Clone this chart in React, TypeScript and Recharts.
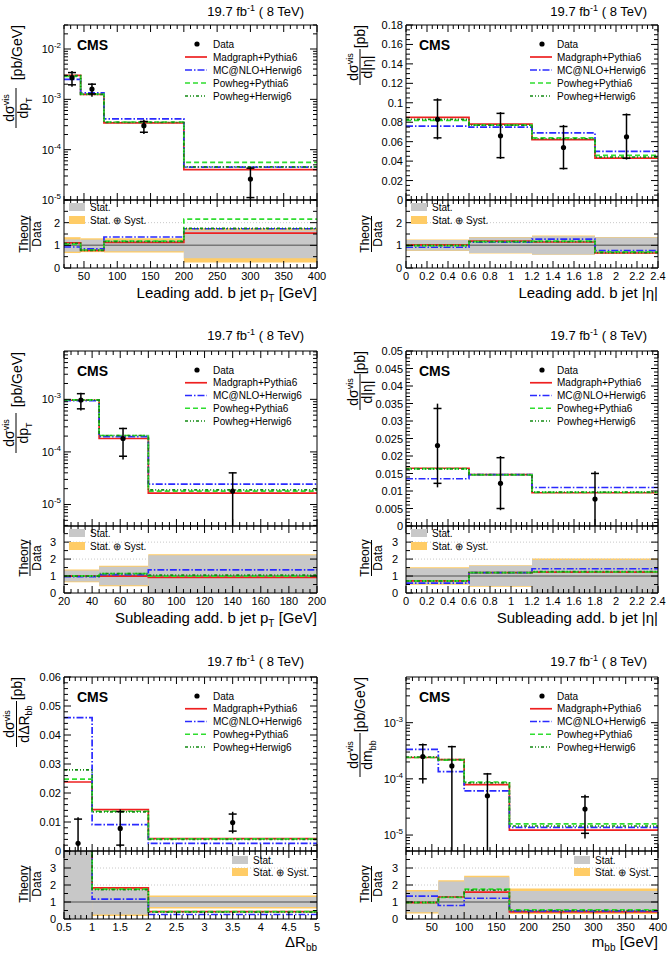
import React from 'react';
import { ComposedChart, Line, Scatter, XAxis, YAxis, ReferenceArea, ReferenceLine, ErrorBar } from 'recharts';

const FONT = '"Liberation Sans", Arial, Helvetica, sans-serif';

const modelNames = ['Madgraph+Pythia6', 'MC@NLO+Herwig6', 'Powheg+Pythia6', 'Powheg+Herwig6'];
const modelColors = ['#ee2020', '#2a2aff', '#2fdd2f', '#138a13'];
const modelDashes = ['', '7 2 1.5 2', '5 3', '3 2 1 2 1 2'];
const statColor = '#c8c8c8';
const systColor = '#ffcc66';
const lumiText = '19.7';

// ===== Leading add. b jet pT =====
const ptLeadEdges = [20, 45, 80, 200, 400];
const ptLeadDataX = [32, 62, 140, 300];
const ptLeadData = [2.7e-3, 1.6e-3, 3.0e-4, 2.6e-5];
const ptLeadStatLo = [0.72, 0.8, 0.74, 0.43];
const ptLeadStatHi = [1.26, 1.25, 1.21, 1.65];
const ptLeadTotLo = [0.66, 0.7, 0.68, 0.24];
const ptLeadTotHi = [1.36, 1.31, 1.31, 1.75];
const ptLeadMadgraph = [3.0e-3, 1.25e-3, 3.4e-4, 4.0e-5];
const ptLeadMcatnlo = [2.5e-3, 1.35e-3, 4.1e-4, 4.5e-5];
const ptLeadPowhegPy = [2.85e-3, 1.27e-3, 3.55e-4, 5.6e-5];
const ptLeadPowhegHw = [2.95e-3, 1.25e-3, 3.5e-4, 4.55e-5];
const ptLeadXMajors = [50, 100, 150, 200, 250, 300, 350, 400];
const ptLeadYMajors = [1e-5, 1e-4, 1e-3, 1e-2];

// ===== Leading add. b jet |eta| =====
const etaLeadEdges = [0, 0.6, 1.2, 1.8, 2.4];
const etaLeadDataX = [0.3, 0.9, 1.5, 2.1];
const etaLeadData = [0.083, 0.066, 0.054, 0.065];
const etaLeadStatLo = [0.77, 0.66, 0.6, 0.66];
const etaLeadStatHi = [1.24, 1.35, 1.4, 1.35];
const etaLeadTotLo = [0.75, 0.64, 0.58, 0.64];
const etaLeadTotHi = [1.26, 1.37, 1.43, 1.37];
const etaLeadMadgraph = [0.085, 0.078, 0.062, 0.043];
const etaLeadMcatnlo = [0.076, 0.075, 0.069, 0.05];
const etaLeadPowhegPy = [0.082, 0.077, 0.064, 0.046];
const etaLeadPowhegHw = [0.083, 0.077, 0.063, 0.044];
const etaXMajors = [0, 0.2, 0.4, 0.6, 0.8, 1, 1.2, 1.4, 1.6, 1.8, 2, 2.2, 2.4];
const etaLeadYMajors = [0, 0.02, 0.04, 0.06, 0.08, 0.1, 0.12, 0.14, 0.16, 0.18];

// ===== Subleading add. b jet pT =====
const ptSubEdges = [20, 45, 80, 200];
const ptSubDataX = [32, 62, 140];
const ptSubData = [9.7e-4, 1.8e-4, 1.8e-5];
const ptSubStatLo = [0.68, 0.46, 0];
const ptSubStatHi = [1.32, 1.55, 2.22];
const ptSubTotLo = [0.63, 0.4, 0];
const ptSubTotHi = [1.38, 1.6, 2.28];
const ptSubMadgraph = [9.6e-4, 1.8e-4, 1.65e-5];
const ptSubMcatnlo = [9.4e-4, 1.95e-4, 2.45e-5];
const ptSubPowhegPy = [9.8e-4, 2.05e-4, 1.8e-5];
const ptSubPowhegHw = [9.7e-4, 2.05e-4, 1.9e-5];
const ptSubXMajors = [20, 40, 60, 80, 100, 120, 140, 160, 180, 200];
const ptSubYMajors = [1e-5, 1e-4, 1e-3];

// ===== Subleading add. b jet |eta| =====
const etaSubEdges = [0, 0.6, 1.2, 2.4];
const etaSubDataX = [0.3, 0.9, 1.8];
const etaSubData = [0.023, 0.0122, 0.0077];
const etaSubStatLo = [0.53, 0.41, 0];
const etaSubStatHi = [1.46, 1.6, 1.95];
const etaSubTotLo = [0.48, 0.37, 0];
const etaSubTotHi = [1.52, 1.64, 2.03];
const etaSubMadgraph = [0.0165, 0.0147, 0.0095];
const etaSubMcatnlo = [0.0135, 0.0147, 0.011];
const etaSubPowhegPy = [0.0164, 0.0146, 0.0096];
const etaSubPowhegHw = [0.0163, 0.0147, 0.0097];
const etaSubYMajors = [0, 0.005, 0.01, 0.015, 0.02, 0.025, 0.03, 0.035, 0.04, 0.045, 0.05];

// ===== Delta R bb =====
const drEdges = [0.5, 1, 2, 5];
const drDataX = [0.75, 1.5, 3.5];
const drData = [0.00265, 0.0078, 0.0098];
const drStatLo = [0, 0.26, 0.7];
const drStatHi = [4.15, 1.74, 1.3];
const drTotLo = [0, 0.17, 0.62];
const drTotHi = [4.4, 1.83, 1.38];
const drMadgraph = [0.0238, 0.0143, 0.0043];
const drMcatnlo = [0.046, 0.0091, 0.0026];
const drPowhegPy = [0.0248, 0.0137, 0.0042];
const drPowhegHw = [0.028, 0.0135, 0.004];
const drXMajors = [0.5, 1, 1.5, 2, 2.5, 3, 3.5, 4, 4.5, 5];
const drYMajors = [0, 0.01, 0.02, 0.03, 0.04, 0.05, 0.06];

// ===== m bb =====
const mbbEdges = [10, 60, 100, 170, 400];
const mbbDataX = [36, 81, 136, 287];
const mbbData = [2.5e-4, 1.7e-4, 5.0e-5, 2.9e-5];
const mbbStatLo = [0.4, 0, 0, 0.37];
const mbbStatHi = [1.62, 2.2, 2.45, 1.65];
const mbbTotLo = [0.33, 0, 0, 0.3];
const mbbTotHi = [1.7, 2.28, 2.55, 1.8];
const mbbMadgraph = [2.4e-4, 2.2e-4, 7.9e-5, 1.22e-5];
const mbbMcatnlo = [3.35e-4, 1.35e-4, 6.1e-5, 1.37e-5];
const mbbPowhegPy = [2.4e-4, 2.15e-4, 8.8e-5, 1.58e-5];
const mbbPowhegHw = [2.45e-4, 2.2e-4, 8.5e-5, 1.45e-5];
const mbbXMajors = [50, 100, 150, 200, 250, 300, 350, 400];
const mbbYMajors = [1e-5, 1e-4, 1e-3];

const ratioMajorsTop = [0, 1, 2];
const ratioMajors = [0, 1, 2, 3];

// ---------- helpers ----------
const stepTicks = (lo: number, hi: number, step: number) => {
  const out: number[] = [];
  const n = Math.round((hi - lo) / step);
  for (let i = 0; i <= n; i++) out.push(+(lo + i * step).toFixed(8));
  return out;
};
const logTicks = (lo: number, hi: number) => {
  const out: number[] = [];
  for (let d = Math.floor(Math.log10(lo)); d <= Math.ceil(Math.log10(hi)); d++) {
    for (let k = 1; k <= 9; k++) {
      const v = +(k * Math.pow(10, d)).toPrecision(6);
      if (v >= lo && v <= hi) out.push(v);
    }
  }
  return out;
};
const isIn = (v: number, arr: number[]) => arr.some((m) => Math.abs(m - v) <= 1e-12 + 1e-6 * Math.abs(m));
const fmtNum = (v: number) => String(+v.toFixed(5));
const fmtLog = (v: number) => {
  const e = Math.round(Math.log10(v));
  return (
    <>
      <tspan>10</tspan>
      <tspan dy={-5} fontSize={8}>{String(e)}</tspan>
    </>
  );
};

function makeTick(side: string, majors: number[], fmt: ((v: number) => React.ReactNode) | null, labelGap = 3) {
  return (props: any) => {
    const { x, y, payload } = props;
    const v = payload.value;
    const major = isIn(v, majors);
    const len = major ? 7 : 4;
    let line: React.ReactNode = null;
    let label: React.ReactNode = null;
    if (side === 'bottom') {
      line = <line x1={x} y1={y} x2={x} y2={y - len} stroke="#000" strokeWidth={1} />;
      if (fmt && major)
        label = (
          <text x={x} y={y + 12} textAnchor="middle" fontSize={11} fontFamily={FONT} fill="#000">
            {fmt(v)}
          </text>
        );
    } else if (side === 'top') {
      line = <line x1={x} y1={y} x2={x} y2={y + len} stroke="#000" strokeWidth={1} />;
    } else if (side === 'left') {
      line = <line x1={x} y1={y} x2={x + len} y2={y} stroke="#000" strokeWidth={1} />;
      if (fmt && major)
        label = (
          <text x={x - labelGap} y={y + 4} textAnchor="end" fontSize={11} fontFamily={FONT} fill="#000">
            {fmt(v)}
          </text>
        );
    } else {
      line = <line x1={x} y1={y} x2={x - len} y2={y} stroke="#000" strokeWidth={1} />;
    }
    return (
      <g>
        {line}
        {label}
      </g>
    );
  };
}

type Lay = { left: number; right: number; top: number; mid: number; bottom: number };
type PanelCfg = {
  edges: number[];
  dataX: number[];
  data: number[];
  statLo: number[];
  statHi: number[];
  totLo: number[];
  totHi: number[];
  models: number[][];
  log: boolean;
  yDomain: [number, number];
  yMajors: number[];
  yTicks: number[];
  xDomain: [number, number];
  xMajors: number[];
  xTicks: number[];
  rDomain: [number, number];
  rMajors: number[];
  rTicks: number[];
  lay: Lay;
  col: number;
  row: number;
};

const col0 = { left: 64, right: 317 };
const col1 = { left: 406, right: 658 };
const row0 = { top: 25, mid: 200, bottom: 268 };
const row1 = { top: 351, mid: 526, bottom: 593 };
const row2 = { top: 677, mid: 851, bottom: 919 };

const panels: PanelCfg[] = [
  {
    edges: ptLeadEdges, dataX: ptLeadDataX, data: ptLeadData,
    statLo: ptLeadStatLo, statHi: ptLeadStatHi, totLo: ptLeadTotLo, totHi: ptLeadTotHi,
    models: [ptLeadMadgraph, ptLeadMcatnlo, ptLeadPowhegPy, ptLeadPowhegHw],
    log: true, yDomain: [1e-5, 3e-2], yMajors: ptLeadYMajors, yTicks: logTicks(1e-5, 3e-2),
    xDomain: [20, 400], xMajors: ptLeadXMajors, xTicks: stepTicks(20, 400, 10),
    rDomain: [0, 3], rMajors: ratioMajorsTop, rTicks: stepTicks(0, 3, 0.5),
    lay: { ...col0, ...row0 }, col: 0, row: 0,
  },
  {
    edges: etaLeadEdges, dataX: etaLeadDataX, data: etaLeadData,
    statLo: etaLeadStatLo, statHi: etaLeadStatHi, totLo: etaLeadTotLo, totHi: etaLeadTotHi,
    models: [etaLeadMadgraph, etaLeadMcatnlo, etaLeadPowhegPy, etaLeadPowhegHw],
    log: false, yDomain: [0, 0.18], yMajors: etaLeadYMajors, yTicks: stepTicks(0, 0.18, 0.005),
    xDomain: [0, 2.4], xMajors: etaXMajors, xTicks: stepTicks(0, 2.4, 0.05),
    rDomain: [0, 3], rMajors: ratioMajorsTop, rTicks: stepTicks(0, 3, 0.5),
    lay: { ...col1, ...row0 }, col: 1, row: 0,
  },
  {
    edges: ptSubEdges, dataX: ptSubDataX, data: ptSubData,
    statLo: ptSubStatLo, statHi: ptSubStatHi, totLo: ptSubTotLo, totHi: ptSubTotHi,
    models: [ptSubMadgraph, ptSubMcatnlo, ptSubPowhegPy, ptSubPowhegHw],
    log: true, yDomain: [3.9e-6, 8.3e-3], yMajors: ptSubYMajors, yTicks: logTicks(3.9e-6, 8.3e-3),
    xDomain: [20, 200], xMajors: ptSubXMajors, xTicks: stepTicks(20, 200, 5),
    rDomain: [0, 3.95], rMajors: ratioMajors, rTicks: stepTicks(0, 3.5, 0.5),
    lay: { ...col0, ...row1 }, col: 0, row: 1,
  },
  {
    edges: etaSubEdges, dataX: etaSubDataX, data: etaSubData,
    statLo: etaSubStatLo, statHi: etaSubStatHi, totLo: etaSubTotLo, totHi: etaSubTotHi,
    models: [etaSubMadgraph, etaSubMcatnlo, etaSubPowhegPy, etaSubPowhegHw],
    log: false, yDomain: [0, 0.05], yMajors: etaSubYMajors, yTicks: stepTicks(0, 0.05, 0.001),
    xDomain: [0, 2.4], xMajors: etaXMajors, xTicks: stepTicks(0, 2.4, 0.05),
    rDomain: [0, 3.95], rMajors: ratioMajors, rTicks: stepTicks(0, 3.5, 0.5),
    lay: { ...col1, ...row1 }, col: 1, row: 1,
  },
  {
    edges: drEdges, dataX: drDataX, data: drData,
    statLo: drStatLo, statHi: drStatHi, totLo: drTotLo, totHi: drTotHi,
    models: [drMadgraph, drMcatnlo, drPowhegPy, drPowhegHw],
    log: false, yDomain: [0, 0.06], yMajors: drYMajors, yTicks: stepTicks(0, 0.06, 0.002),
    xDomain: [0.5, 5], xMajors: drXMajors, xTicks: stepTicks(0.5, 5, 0.1),
    rDomain: [0, 4], rMajors: ratioMajors, rTicks: stepTicks(0, 4, 0.5),
    lay: { ...col0, ...row2 }, col: 0, row: 2,
  },
  {
    edges: mbbEdges, dataX: mbbDataX, data: mbbData,
    statLo: mbbStatLo, statHi: mbbStatHi, totLo: mbbTotLo, totHi: mbbTotHi,
    models: [mbbMadgraph, mbbMcatnlo, mbbPowhegPy, mbbPowhegHw],
    log: true, yDomain: [5.2e-6, 6.5e-3], yMajors: mbbYMajors, yTicks: logTicks(5.2e-6, 6.5e-3),
    xDomain: [10, 400], xMajors: mbbXMajors, xTicks: stepTicks(10, 400, 10),
    rDomain: [0, 4], rMajors: ratioMajors, rTicks: stepTicks(0, 4, 0.5),
    lay: { ...col1, ...row2 }, col: 1, row: 2,
  },
];

// chart margins around the plot frame (axes take 1px each)
const ML = 60, MR = 14, MT = 14, MB = 20;

const DataDot = (props: any) => <circle cx={props.cx} cy={props.cy} r={2.6} fill="#000" />;
const CapMark = (props: any) => (
  <line x1={props.cx - 4} y1={props.cy} x2={props.cx + 4} y2={props.cy} stroke="#000" strokeWidth={1.5} />
);

function axisSet(p: PanelCfg, ratio: boolean) {
  const scale = !ratio && p.log ? 'log' : 'linear';
  const yDomain = ratio ? p.rDomain : p.yDomain;
  const yTicks = ratio ? p.rTicks : p.yTicks;
  const yMajors = ratio ? p.rMajors : p.yMajors;
  const yFmt = ratio ? fmtNum : p.log ? fmtLog : fmtNum;
  const gap = ratio ? (p.row === 0 ? 4 : 8) : 3;
  return [
    <XAxis key="xb" xAxisId={0} dataKey="x" type="number" domain={p.xDomain} ticks={p.xTicks} interval={0}
      allowDataOverflow height={1} tickSize={0} tickMargin={0} tickLine={false}
      axisLine={{ stroke: '#000' }} tick={makeTick('bottom', p.xMajors, ratio ? fmtNum : null)} />,
    <XAxis key="xt" xAxisId="top" orientation="top" dataKey="x" type="number" domain={p.xDomain} ticks={p.xTicks}
      interval={0} allowDataOverflow height={1} tickSize={0} tickMargin={0} tickLine={false}
      axisLine={{ stroke: '#000' }} tick={makeTick('top', p.xMajors, null)} />,
    <YAxis key="yl" yAxisId={0} type="number" scale={scale} domain={yDomain} ticks={yTicks} interval={0}
      allowDataOverflow width={1} tickSize={0} tickMargin={0} tickLine={false}
      axisLine={{ stroke: '#000' }} tick={makeTick('left', yMajors, yFmt, gap)} />,
    <YAxis key="yr" yAxisId="right" orientation="right" type="number" scale={scale} domain={yDomain} ticks={yTicks}
      interval={0} allowDataOverflow width={1} tickSize={0} tickMargin={0} tickLine={false}
      axisLine={{ stroke: '#000' }} tick={makeTick('right', yMajors, null)} />,
  ];
}

function MainChart({ p }: { p: PanelCfg }) {
  const L = p.lay;
  const w = L.right - L.left + ML + MR + 2;
  const h = L.mid - L.top + MT + MB + 2;
  const nb = p.data.length;
  const rows = p.edges.map((e, i) => {
    const j = Math.min(i, nb - 1);
    const r: any = { x: e };
    p.models.forEach((m, k) => (r['m' + k] = m[j]));
    return r;
  });
  const [ymin, ymax] = p.yDomain;
  const pts = p.dataX.map((x, i) => {
    const y = p.data[i];
    const lo = Math.max(y * p.totLo[i], ymin);
    const hi = Math.min(y * p.totHi[i], ymax);
    return { x, y, err: [y - lo, hi - y] };
  });
  const caps: any[] = [];
  p.dataX.forEach((x, i) => {
    const y = p.data[i];
    [y * p.statLo[i], y * p.statHi[i]].forEach((c) => {
      if (c > ymin && c < ymax) caps.push({ x, y: c });
    });
  });
  return (
    <div style={{ position: 'absolute', left: L.left - ML - 1, top: L.top - MT - 1 }}>
      <ComposedChart width={w} height={h} data={rows} margin={{ left: ML, right: MR, top: MT, bottom: MB }}>
        {axisSet(p, false)}
        {p.models.map((_, k) => (
          <Line key={k} name={modelNames[k]} dataKey={'m' + k} type="stepAfter" stroke={modelColors[k]}
            strokeWidth={1.7} strokeDasharray={modelDashes[k]} dot={false} activeDot={false}
            isAnimationActive={false} />
        ))}
        <Scatter name="Data" data={pts} dataKey="y" shape={DataDot} isAnimationActive={false}>
          <ErrorBar dataKey="err" direction="y" width={0} stroke="#000" strokeWidth={1.5} />
        </Scatter>
        <Scatter name="stat" data={caps} dataKey="y" shape={CapMark} isAnimationActive={false} />
      </ComposedChart>
    </div>
  );
}

function RatioChart({ p }: { p: PanelCfg }) {
  const L = p.lay;
  const w = L.right - L.left + ML + MR + 2;
  const h = L.bottom - L.mid + MT + MB + 2;
  const nb = p.data.length;
  const rows = p.edges.map((e, i) => {
    const j = Math.min(i, nb - 1);
    const r: any = { x: e };
    p.models.forEach((m, k) => (r['m' + k] = m[j] / p.data[j]));
    return r;
  });
  const [rmin, rmax] = p.rDomain;
  const cl = (v: number) => Math.max(rmin, Math.min(rmax, v));
  const grid = p.rMajors.filter((v) => v > 1);
  return (
    <div style={{ position: 'absolute', left: L.left - ML - 1, top: L.mid - MT - 1 }}>
      <ComposedChart width={w} height={h} data={rows} margin={{ left: ML, right: MR, top: MT, bottom: MB }}>
        {axisSet(p, true)}
        {grid.map((g) => (
          <ReferenceLine key={'g' + g} y={g} stroke="#c8c8c8" strokeDasharray="1 2" strokeWidth={1} />
        ))}
        {p.data.map((_, i) => (
          <ReferenceArea key={'t' + i} x1={p.edges[i]} x2={p.edges[i + 1]} y1={cl(p.totLo[i])} y2={cl(p.totHi[i])}
            fill={systColor} fillOpacity={1} stroke="none" />
        ))}
        {p.data.map((_, i) => (
          <ReferenceArea key={'s' + i} x1={p.edges[i]} x2={p.edges[i + 1]} y1={cl(p.statLo[i])} y2={cl(p.statHi[i])}
            fill={statColor} fillOpacity={1} stroke="none" />
        ))}
        <ReferenceLine y={1} stroke="#777" strokeWidth={1.5} />
        {p.models.map((_, k) => (
          <Line key={k} name={modelNames[k]} dataKey={'m' + k} type="stepAfter" stroke={modelColors[k]}
            strokeWidth={1.7} strokeDasharray={modelDashes[k]} dot={false} activeDot={false}
            isAnimationActive={false} />
        ))}
      </ComposedChart>
    </div>
  );
}

const T = (props: any) => <text fontFamily={FONT} fill="#000" {...props} />;

function FracLabel({ x, yc, w, fs, num, den }: any) {
  return (
    <g transform={`translate(${x},${yc}) rotate(-90)`}>
      <T x={0} y={-2.5} textAnchor="middle" fontSize={fs}>{num}</T>
      <line x1={-w / 2} x2={w / 2} y1={0} y2={0} stroke="#000" strokeWidth={1} />
      <T x={0} y={fs * 0.76 + 1.5} textAnchor="middle" fontSize={fs}>{den}</T>
    </g>
  );
}
function UnitLabel({ x, yTop, fs, text }: any) {
  return (
    <g transform={`translate(${x},${yTop}) rotate(-90)`}>
      <T x={0} y={fs * 0.36} textAnchor="end" fontSize={fs}>{text}</T>
    </g>
  );
}

const dsig = (
  <>
    <tspan>dσ</tspan>
    <tspan dy={-4.5} fontSize={9}>vis</tspan>
  </>
);
const denPt = (
  <>
    <tspan>dp</tspan>
    <tspan dy={3.5} fontSize={9}>T</tspan>
  </>
);
const denEta = <tspan>d|η|</tspan>;
const denDr = (
  <>
    <tspan>dΔR</tspan>
    <tspan dy={3.5} fontSize={9}>bb</tspan>
  </>
);
const denMbb = (
  <>
    <tspan>dm</tspan>
    <tspan dy={3.5} fontSize={9}>bb</tspan>
  </>
);

const yLabels = [
  { lineX: 16, fracC: 108, fracW: 40, unitX: 17, unitTop: 25, den: denPt, unit: '[pb/GeV]' },
  { lineX: 360, fracC: 67, fracW: 36, unitX: 360, unitTop: 25, den: denEta, unit: '[pb]' },
  { lineX: 16, fracC: 433, fracW: 40, unitX: 17, unitTop: 352, den: denPt, unit: '[pb/GeV]' },
  { lineX: 360, fracC: 392, fracW: 36, unitX: 360, unitTop: 351, den: denEta, unit: '[pb]' },
  { lineX: 16.5, fracC: 724, fracW: 46, unitX: 17, unitTop: 677, den: denDr, unit: '[pb]' },
  { lineX: 360, fracC: 755, fracW: 44, unitX: 360, unitTop: 677, den: denMbb, unit: '[pb/GeV]' },
];

const xLabels = [
  (
    <>
      <tspan>Leading add. b jet p</tspan>
      <tspan dy={4} fontSize={10}>T</tspan>
      <tspan dy={-4}> [GeV]</tspan>
    </>
  ),
  <tspan>Leading add. b jet |η|</tspan>,
  (
    <>
      <tspan>Subleading add. b jet p</tspan>
      <tspan dy={4} fontSize={10}>T</tspan>
      <tspan dy={-4}> [GeV]</tspan>
    </>
  ),
  <tspan>Subleading add. b jet |η|</tspan>,
  (
    <>
      <tspan>ΔR</tspan>
      <tspan dy={4} fontSize={10}>bb</tspan>
    </>
  ),
  (
    <>
      <tspan>m</tspan>
      <tspan dy={4} fontSize={10}>bb</tspan>
      <tspan dy={-4}> [GeV]</tspan>
    </>
  ),
];

const titleEnd = [304, 647];
const titleBase = [15.5, 339.5, 665.5];
const cmsBase = [50, 376, 702];
const legendRow0 = [44, 370, 696];
const legendStep = [13, 12.75, 12.75];
const ratioLabelX = [30, 371.5];
const ratioLabelC = [234, 558, 884];
const xLabelBase = [298, 623, 947];

function Overlay() {
  return (
    <svg width={670} height={955} style={{ position: 'absolute', left: 0, top: 0, pointerEvents: 'none' }}>
      {panels.map((p, i) => {
        const L = p.lay;
        const c = p.col;
        const r = p.row;
        const yl = yLabels[i];
        const lx = c === 0 ? { dot: 197, l0: 185, l1: 207, text: 213 } : { dot: 542, l0: 530, l1: 552, text: 557 };
        const lg0 = legendRow0[r];
        const st = legendStep[r];
        const rl = r === 2
          ? { bx: L.left + 168, y0: L.mid + 9, y1: L.mid + 21 }
          : { bx: L.left + 5, y0: L.mid + 7, y1: L.mid + 20 };
        return (
          <g key={i}>
            <T x={titleEnd[c]} y={titleBase[r]} textAnchor="end" fontSize={13}>
              <tspan>{lumiText} fb</tspan>
              <tspan dy={-5} fontSize={9}>-1</tspan>
              <tspan dy={5}> ( 8 TeV)</tspan>
            </T>
            <T x={L.left + 13} y={cmsBase[r]} fontSize={14} fontWeight="bold">CMS</T>
            <circle cx={lx.dot} cy={lg0} r={2.6} fill="#000" />
            <T x={lx.text} y={lg0 + 3.5} fontSize={10}>Data</T>
            {modelNames.map((n, k) => (
              <g key={k}>
                <line x1={lx.l0} x2={lx.l1} y1={lg0 + st * (k + 1)} y2={lg0 + st * (k + 1)} stroke={modelColors[k]}
                  strokeWidth={1.7} strokeDasharray={modelDashes[k]} />
                <T x={lx.text} y={lg0 + st * (k + 1) + 3.5} fontSize={10}>{n}</T>
              </g>
            ))}
            <rect x={rl.bx} y={rl.y0 - 4} width={16} height={8} fill={statColor} />
            <T x={rl.bx + 21} y={rl.y0 + 3.5} fontSize={10}>Stat.</T>
            <rect x={rl.bx} y={rl.y1 - 4} width={16} height={8} fill={systColor} />
            <T x={rl.bx + 21} y={rl.y1 + 3.5} fontSize={10}>Stat. ⊕ Syst.</T>
            <FracLabel x={yl.lineX} yc={yl.fracC} w={yl.fracW} fs={14} num={dsig} den={yl.den} />
            <UnitLabel x={yl.unitX} yTop={yl.unitTop} fs={14} text={yl.unit} />
            <FracLabel x={ratioLabelX[c]} yc={ratioLabelC[r]} w={36} fs={12} num={<tspan>Theory</tspan>}
              den={<tspan>Data</tspan>} />
            <T x={L.right} y={xLabelBase[r]} textAnchor="end" fontSize={15}>{xLabels[i]}</T>
          </g>
        );
      })}
    </svg>
  );
}

export default function App() {
  return (
    <div style={{ position: 'absolute', left: 0, top: 0, width: 670, height: 955, background: '#fff' }}>
      {panels.map((p, i) => (
        <React.Fragment key={i}>
          <RatioChart p={p} />
          <MainChart p={p} />
        </React.Fragment>
      ))}
      <Overlay />
    </div>
  );
}
